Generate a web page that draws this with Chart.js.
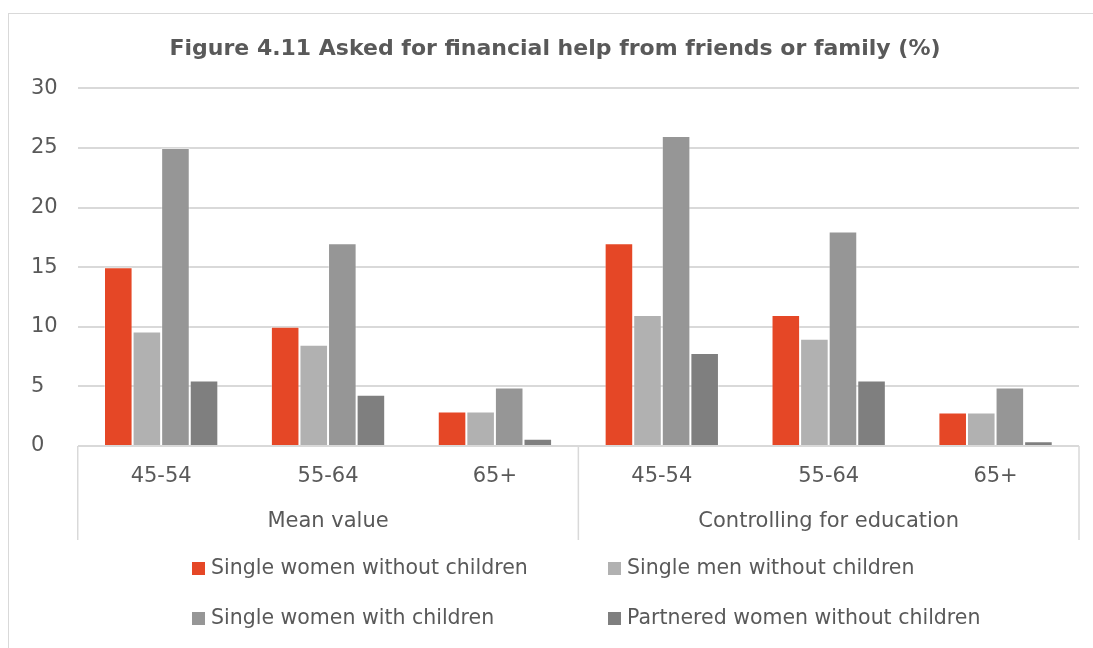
<!DOCTYPE html>
<html>
<head>
<meta charset="utf-8">
<script src="https://cdn.jsdelivr.net/npm/chart.js@4.4.1/dist/chart.umd.min.js"></script>
<style>
  html, body { margin: 0; padding: 0; background: #fff; overflow: hidden; }
  body { width: 1093px; height: 648px; position: relative; }
  #frame {
    position: absolute; left: 8px; top: 13px; width: 1100px; height: 650px;
    border: 1px solid #D9D9D9; box-sizing: border-box;
  }
  #wrap { position: absolute; left: 0; top: 0; width: 1098px; height: 634px; }
  .lg { position: absolute; font-family: "DejaVu Sans", sans-serif; font-size: 20.5px; color: #595959;
        white-space: nowrap; line-height: 24px; }
  .lg i { display: inline-block; width: 13px; height: 13px; margin-right: 6px; vertical-align: -1px; }
</style>
</head>
<body>
<div id="frame">
  <div id="wrap"><canvas id="c"></canvas></div>
</div>
<div id="legend"></div>
<script>
// Age bands, repeated for each of the two estimation approaches
const ageLabels = ['45-54', '55-64', '65+', '45-54', '55-64', '65+'];
const groupLabels = ['Mean value', 'Controlling for education'];

// Share who asked for financial help (%)
const singleWomenNoChildren   = [15, 10, 2.9, 17, 11, 2.8];
const singleMenNoChildren     = [9.6, 8.5, 2.9, 11, 9, 2.8];
const singleWomenWithChildren = [25, 17, 4.9, 26, 18, 4.9];
const partneredWomenNoChildren = [5.5, 4.3, 0.6, 7.8, 5.5, 0.4];

const seriesNames = [
  'Single women without children',
  'Single men without children',
  'Single women with children',
  'Partnered women without children'
];
const seriesColors = ['#E54726', '#B1B1B1', '#969696', '#7F7F7F'];
const seriesValues = [singleWomenNoChildren, singleMenNoChildren, singleWomenWithChildren, partneredWomenNoChildren];

const yTicks = [0, 5, 10, 15, 20, 25, 30];

const FONT = '"DejaVu Sans", sans-serif';
const TEXT = '#595959';
const GRID = '#D9D9D9';

// Vertical dividers separating the two groups of age bands
const groupDividers = {
  id: 'groupDividers',
  afterDraw(chart) {
    const x = chart.scales.x, x2 = chart.scales.x2;
    const mid = (x.getPixelForTick(2) + x.getPixelForTick(3)) / 2;
    const ctx = chart.ctx;
    ctx.save();
    ctx.strokeStyle = GRID;
    ctx.lineWidth = 1.5;
    [x.left, mid, x.right].forEach(px => {
      ctx.beginPath();
      ctx.moveTo(px, x.top);
      ctx.lineTo(px, x2.bottom);
      ctx.stroke();
    });
    ctx.restore();
  }
};

new Chart(document.getElementById('c'), {
  type: 'bar',
  data: {
    labels: ageLabels,
    datasets: seriesValues.map((vals, i) => ({
      label: seriesNames[i],
      data: vals,
      backgroundColor: seriesColors[i],
      borderColor: 'rgba(255,255,255,0.35)',
      borderWidth: 1,
      barPercentage: 1,
      categoryPercentage: 0.685
    }))
  },
  options: {
    responsive: true,
    maintainAspectRatio: false,
    animation: false,
    layout: { padding: { left: 22, right: 28, top: 0, bottom: 108 } },
    plugins: {
      legend: { display: false },
      tooltip: { enabled: false },
      title: {
        display: true,
        text: 'Figure 4.11 Asked for financial help from friends or family (%)',
        color: TEXT,
        font: { family: FONT, size: 22, weight: 'bold' },
        padding: { top: 22, bottom: 26 }
      }
    },
    scales: {
      y: {
        min: 0, max: 30,
        afterBuildTicks(scale) { scale.ticks = yTicks.map(v => ({ value: v })); },
        ticks: { color: TEXT, font: { family: FONT, size: 21 }, padding: 10, crossAlign: 'far' },
        grid: { color: GRID, lineWidth: 2, drawTicks: false },
        border: { display: false }
      },
      x: {
        grid: { display: false, drawTicks: false },
        border: { display: false },
        ticks: { color: TEXT, font: { family: FONT, size: 21 }, padding: 18, maxRotation: 0 },
        afterFit(scale) { scale.height = 45; }
      },
      x2: {
        type: 'category',
        labels: groupLabels,
        position: 'bottom',
        offset: true,
        grid: { display: false, drawTicks: false },
        border: { display: false },
        ticks: { color: TEXT, font: { family: FONT, size: 21 }, padding: 18, maxRotation: 0 },
        afterFit(scale) { scale.height = 49; }
      }
    }
  },
  plugins: [groupDividers]
});

// Two-column legend beneath the axis
const legendPos = [[192, 555], [608, 555], [192, 605], [608, 605]];
const legend = document.getElementById('legend');
seriesNames.forEach((name, i) => {
  const d = document.createElement('div');
  d.className = 'lg';
  d.style.left = legendPos[i][0] + 'px';
  d.style.top = legendPos[i][1] + 'px';
  d.innerHTML = '<i style="background:' + seriesColors[i] + '"></i>';
  d.appendChild(document.createTextNode(name));
  legend.appendChild(d);
});
</script>
</body>
</html>
